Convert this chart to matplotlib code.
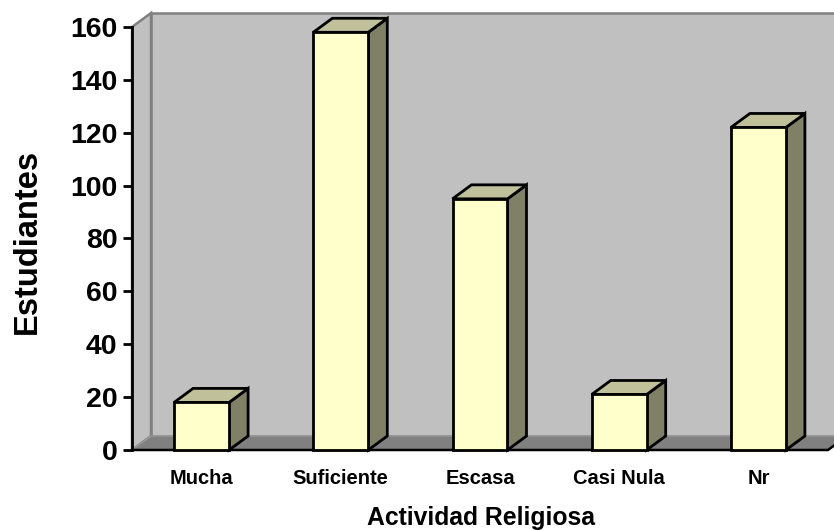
import matplotlib
matplotlib.use("Agg")
import matplotlib.pyplot as plt
from matplotlib.patches import Polygon

plt.rcParams['font.family'] = ['Liberation Sans', 'DejaVu Sans']
plt.rcParams['font.weight'] = 'bold'

categories = ["Mucha", "Suficiente", "Escasa", "Casi Nula", "Nr"]
values = [18, 158, 95, 21, 122]
yticks = [0, 20, 40, 60, 80, 100, 120, 140, 160]

W, H = 834, 530
fig = plt.figure(figsize=(W / 100, H / 100), dpi=100)
fig.patch.set_facecolor("white")

# front plane of the 3D plot box, in pixels
left_px, right_px, bottom_px, top_px = 132, 828, 450, 27
ax = fig.add_axes([left_px / W, 1 - bottom_px / H,
                   (right_px - left_px) / W, (bottom_px - top_px) / H])
n = len(categories)
ymax = 160
ax.set_xlim(0, n)
ax.set_ylim(0, ymax)
ax.patch.set_visible(False)

# depth offset of the 3D box (data units)
px_per_x = (right_px - left_px) / n
px_per_y = (bottom_px - top_px) / ymax
dx = 19 / px_per_x
dy = 14 / px_per_y

wall = "#C0C0C0"
wall_edge = "#808080"
floor = "#808080"

# back wall
ax.add_patch(Polygon([(dx, dy), (n + 2, dy), (n + 2, ymax + dy), (dx, ymax + dy)],
                     closed=True, facecolor=wall, edgecolor=wall_edge, lw=1.8,
                     clip_on=False, zorder=1))
# side wall
ax.add_patch(Polygon([(0, 0), (dx, dy), (dx, ymax + dy), (0, ymax)],
                     closed=True, facecolor=wall, edgecolor=wall_edge, lw=1.8,
                     clip_on=False, zorder=1))
# floor
ax.add_patch(Polygon([(0, 0), (n, 0), (n + dx, dy), (dx, dy)],
                     closed=True, facecolor=floor, edgecolor="#9A9A9A", lw=1.0,
                     clip_on=False, zorder=2))
ax.plot([0, n, n + dx], [0, 0, dy], color="black", lw=1.8, clip_on=False, zorder=3,
        solid_joinstyle="miter")

front_c = "#FFFFCC"
top_c = "#C0C09A"
side_c = "#808066"
bw = 0.395
for i, v in enumerate(values):
    x0 = i + 0.5 - bw / 2
    x1 = i + 0.5 + bw / 2
    kw = dict(closed=True, edgecolor="black", lw=2.0, clip_on=False,
              zorder=4 + i, joinstyle="miter")
    ax.add_patch(Polygon([(x1, 0), (x1 + dx, dy), (x1 + dx, v + dy), (x1, v)],
                         facecolor=side_c, **kw))
    ax.add_patch(Polygon([(x0, v), (x1, v), (x1 + dx, v + dy), (x0 + dx, v + dy)],
                         facecolor=top_c, **kw))
    ax.add_patch(Polygon([(x0, 0), (x1, 0), (x1, v), (x0, v)],
                         facecolor=front_c, **kw))

for s in ["top", "right", "bottom"]:
    ax.spines[s].set_visible(False)
ax.spines["left"].set_linewidth(2.0)
ax.spines["left"].set_zorder(20)

ax.set_yticks(yticks)
ax.set_yticklabels([str(t) for t in yticks], fontsize=20.5, fontweight="bold")
ax.tick_params(axis="y", length=6.5, width=2.0, pad=4)

ax.set_xticks([i + 0.5 for i in range(n)])
ax.set_xticklabels(categories, fontsize=14.5, fontweight="bold")
ax.tick_params(axis="x", length=0, pad=14)

fig.text(27 / W, 1 - 241 / H, "Estudiantes", rotation=90, fontsize=23.5,
         fontweight="bold", ha="center", va="center")
fig.text(481 / W, 1 - 518 / H, "Actividad Religiosa", fontsize=17.8,
         fontweight="bold", ha="center", va="center")

fig.savefig("out.png", dpi=100, facecolor="white")
